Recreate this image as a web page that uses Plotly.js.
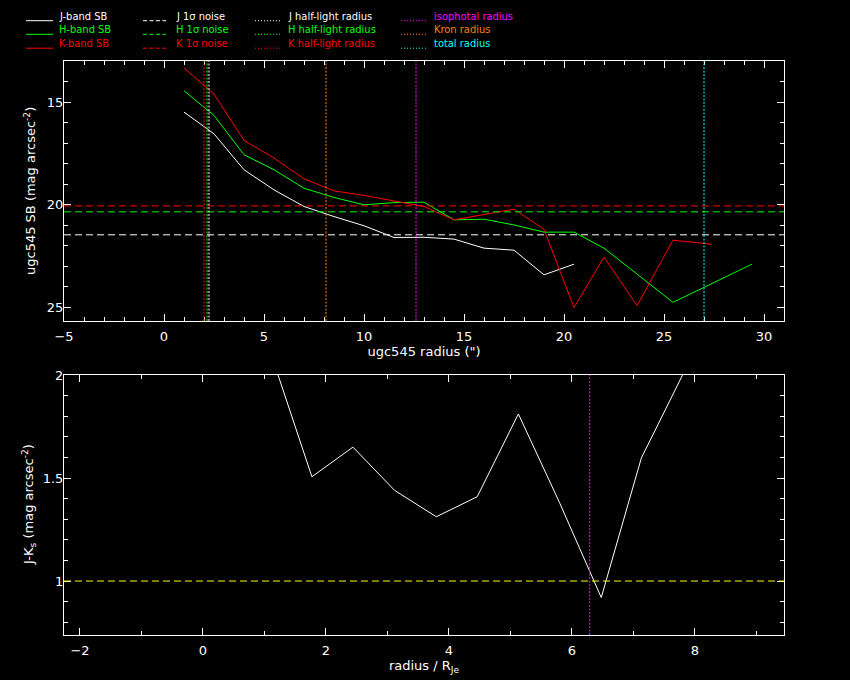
<!DOCTYPE html>
<html>
<head>
<meta charset="utf-8">
<script src="https://cdn.plot.ly/plotly-3.0.1.min.js"></script>
<style>html,body{margin:0;padding:0;background:#000;}#chart{width:850px;height:680px;}</style>
</head>
<body>
<div id="chart"></div>
<script>
// ---------- data ----------
const jRadius = [1, 2.5, 4, 5.5, 7, 8.5, 10, 11.5, 13, 14.5, 16, 17.5, 19, 20.5];
const jSB     = [15.49, 16.55, 18.30, 19.28, 20.09, 20.58, 21.03, 21.60, 21.59, 21.68, 22.12, 22.22, 23.42, 22.90];
const hRadius = [1, 2.5, 4, 5.5, 7, 8.5, 10, 11.5, 13, 14.5, 16, 17.5, 19, 20.5, 22, 25.45, 29.4];
const hSB     = [14.45, 15.65, 17.57, 18.30, 19.20, 19.65, 20.01, 19.90, 19.88, 20.74, 20.71, 20.99, 21.34, 21.34, 22.12, 24.76, 22.90];
const kRadius = [1, 2.5, 4, 5.5, 7, 8.5, 10, 11.5, 13, 14.5, 16, 17.5, 19, 20.5, 22, 23.65, 25.45, 27.4];
const kSB     = [13.34, 14.61, 16.87, 17.73, 18.74, 19.33, 19.55, 19.83, 20.09, 20.74, 20.47, 20.22, 21.20, 25.02, 22.56, 24.92, 21.73, 21.93];

const noiseBands  = ['J', 'H', 'K'];
const noiseLevels = [21.47, 20.35, 20.06];
const halfLightRadii = [2.25, 2.15, 2.0];    // J, H, K
const isophotalRadius = 12.6;
const kronRadius = 8.1;
const totalRadius = 27.0;

const colorRadius = [0.44, 1.11, 1.772, 2.439, 3.117, 3.795, 4.46, 5.13, 5.80, 6.478, 7.13, 8.44];
const colorJK     = [2.15, 2.10, 1.506, 1.650, 1.440, 1.312, 1.409, 1.811, 1.38, 0.920, 1.597, 2.385];
const colorRefLevel = 1.0;
const isophotalRadiusNorm = 6.29;

const legendLabels = [
  ['J-band SB', 'H-band SB', 'K-band SB'],
  ['J 1σ noise', 'H 1σ noise', 'K 1σ noise'],
  ['J half-light radius', 'H half-light radius', 'K half-light radius'],
  ['isophotal radius', 'Kron radius', 'total radius']
];

// ---------- styles ----------
const WHITE = '#FFFFFF', GREEN = '#00FF00', RED = '#FF0000';
const MAGENTA = '#FF00FF', ORANGE = '#FF8000', CYAN = '#00FFFF', YELLOW = '#FFFF00';
const bandColors = [WHITE, GREEN, RED];
const legendColors = [bandColors, bandColors, bandColors, [MAGENTA, ORANGE, CYAN]];
const legendDash = ['solid', '4px,2.5px', '1px,2px', '1px,2px'];
const DASH = '7px,4px', DOT = '2px,1.5px';

const M = {l: 64, r: 66, t: 61, b: 45};
const W = 850, H = 680;
const px2x = X => (X - M.l) / (W - M.l - M.r);
const px2y = Y => (H - M.b - Y) / (H - M.t - M.b);

const traces = [
  {x: jRadius, y: jSB, type: 'scatter', mode: 'lines', line: {color: WHITE, width: 1}, xaxis: 'x', yaxis: 'y', name: 'J-band SB', showlegend: false},
  {x: hRadius, y: hSB, type: 'scatter', mode: 'lines', line: {color: GREEN, width: 1}, xaxis: 'x', yaxis: 'y', name: 'H-band SB', showlegend: false},
  {x: kRadius, y: kSB, type: 'scatter', mode: 'lines', line: {color: RED, width: 1}, xaxis: 'x', yaxis: 'y', name: 'K-band SB', showlegend: false},
  {x: colorRadius, y: colorJK, type: 'scatter', mode: 'lines', line: {color: WHITE, width: 1}, xaxis: 'x2', yaxis: 'y2', name: 'J-Ks', showlegend: false}
];

const shapes = [];
// noise levels
noiseLevels.forEach((v, i) => shapes.push({type: 'line', xref: 'x domain', yref: 'y', x0: 0, x1: 1, y0: v, y1: v,
  line: {color: bandColors[i], width: 1, dash: DASH}}));
// half-light radii
halfLightRadii.forEach((v, i) => shapes.push({type: 'line', xref: 'x', yref: 'y domain', x0: v, x1: v, y0: 0, y1: 1,
  line: {color: bandColors[i], width: 1, dash: DOT}}));
[[isophotalRadius, MAGENTA], [kronRadius, ORANGE], [totalRadius, CYAN]].forEach(([v, c]) =>
  shapes.push({type: 'line', xref: 'x', yref: 'y domain', x0: v, x1: v, y0: 0, y1: 1, line: {color: c, width: 1, dash: DOT}}));
// lower panel
shapes.push({type: 'line', xref: 'x2 domain', yref: 'y2', x0: 0, x1: 1, y0: colorRefLevel, y1: colorRefLevel,
  line: {color: YELLOW, width: 1, dash: DASH}});
shapes.push({type: 'line', xref: 'x2', yref: 'y2 domain', x0: isophotalRadiusNorm, x1: isophotalRadiusNorm, y0: 0, y1: 1,
  line: {color: MAGENTA, width: 1, dash: DOT}});

// legend (drawn as paper-space samples + text)
const colLine0 = [26, 143, 255, 401], colLine1 = [53, 166, 280, 426], colText = [57, 174, 286, 432];
const rowY = [20.7, 34.3, 48.2];
const annotations = [];
legendLabels.forEach((col, c) => col.forEach((lab, r) => {
  shapes.push({type: 'line', xref: 'paper', yref: 'paper', x0: px2x(colLine0[c]), x1: px2x(colLine1[c]),
    y0: px2y(rowY[r]), y1: px2y(rowY[r]), line: {color: legendColors[c][r], width: 1, dash: legendDash[c]}});
  annotations.push({xref: 'paper', yref: 'paper', x: px2x(colText[c]), y: px2y(rowY[r] - 4.5), text: lab,
    showarrow: false, xanchor: 'left', yanchor: 'middle',
    font: {family: 'DejaVu Sans Condensed, DejaVu Sans', size: 11, color: legendColors[c][r]}});
}));

const titleFont = {family: 'DejaVu Sans', size: 13, color: WHITE};
// y-axis titles
annotations.push({xref: 'paper', yref: 'paper', x: px2x(30), y: px2y(191), text: 'ugc545 SB (mag arcsec<sup>-2</sup>)',
  textangle: -90, showarrow: false, xanchor: 'center', yanchor: 'middle', font: titleFont});
annotations.push({xref: 'paper', yref: 'paper', x: px2x(29), y: px2y(505), text: 'J-K<sub>s</sub> (mag arcsec<sup>-2</sup>)',
  textangle: -90, showarrow: false, xanchor: 'center', yanchor: 'middle', font: titleFont});

const axCommon = {
  showgrid: false, zeroline: false, showline: true, linecolor: WHITE, linewidth: 1, mirror: 'allticks',
  ticks: 'inside', ticklen: 7, tickwidth: 1, tickcolor: WHITE, automargin: false,
  tickfont: {family: 'DejaVu Sans', size: 13, color: WHITE}
};
const xCommon = Object.assign({}, axCommon, {ticklabelstandoff: 3});
const yCommon = Object.assign({}, axCommon, {ticklabelstandoff: -3});
const minor = (d) => ({dtick: d, ticks: 'inside', ticklen: 4, tickwidth: 1, tickcolor: WHITE, showgrid: false});

const layout = {
  width: W, height: H,
  paper_bgcolor: '#000', plot_bgcolor: '#000',
  margin: M,
  font: {family: 'DejaVu Sans', size: 13, color: WHITE},
  showlegend: false,
  xaxis: Object.assign({}, xCommon, {domain: [0, 1], anchor: 'y', range: [-5, 31], tick0: 0, dtick: 5, minor: minor(1),
    title: {text: 'ugc545 radius (")', font: titleFont, standoff: 4}}),
  yaxis: Object.assign({}, yCommon, {domain: [px2y(321), 1], anchor: 'x', range: [25.67, 13.0], tick0: 0, dtick: 5, minor: minor(1)}),
  xaxis2: Object.assign({}, xCommon, {domain: [0, 1], anchor: 'y2', range: [-2.26, 9.45], tick0: 0, dtick: 2, minor: minor(1),
    title: {text: 'radius / R<sub>Je</sub>', font: titleFont, standoff: 4}}),
  yaxis2: Object.assign({}, yCommon, {domain: [0, px2y(375)], anchor: 'x2', range: [0.738, 2.0], tick0: 0, dtick: 0.5, minor: minor(0.1)}),
  shapes: shapes,
  annotations: annotations
};

Plotly.newPlot('chart', traces, layout, {displayModeBar: false, staticPlot: true});
</script>
</body>
</html>
